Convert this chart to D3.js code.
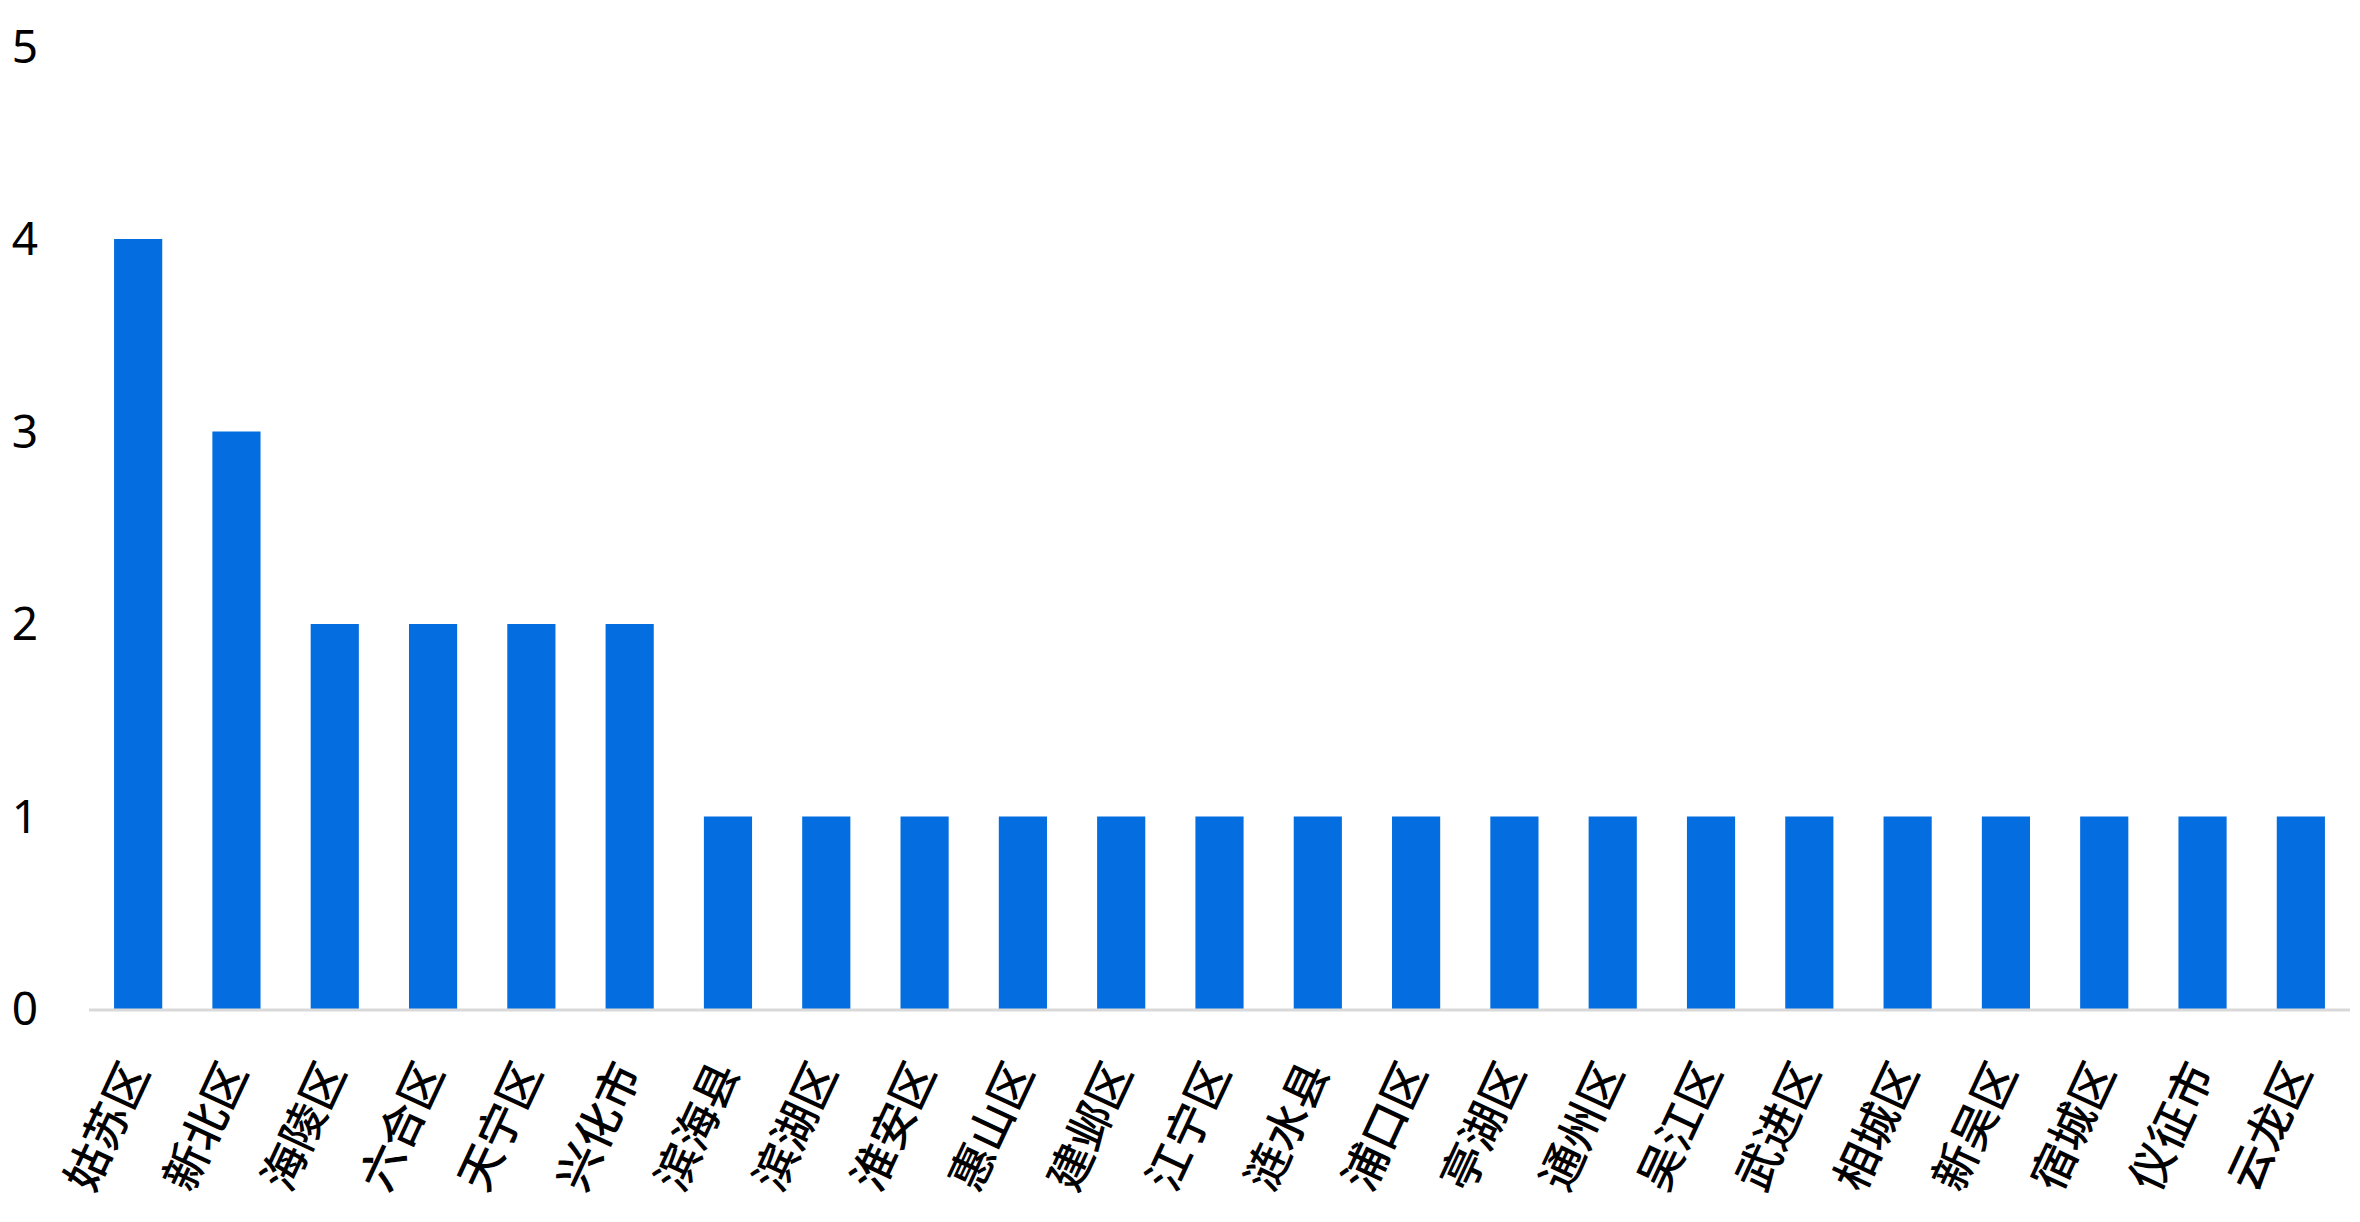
<!DOCTYPE html>
<html>
<head>
<meta charset="utf-8">
<script src="https://cdn.jsdelivr.net/npm/d3@7"></script>
<style>
  html, body { margin: 0; padding: 0; background: #fff; }
  svg { display: block; }
</style>
</head>
<body>
<script>
// Данные графика
const districts = ["姑苏区", "新北区", "海陵区", "六合区", "天宁区", "兴化市", "滨海县", "滨湖区",
    "淮安区", "惠山区", "建邺区", "江宁区", "涟水县", "浦口区", "亭湖区", "通州区",
    "吴江区", "武进区", "相城区", "新吴区", "宿城区", "仪征市", "云龙区"];
const counts = [4, 3, 2, 2, 2, 2, 1, 1, 1, 1, 1, 1, 1, 1, 1, 1, 1, 1, 1, 1, 1, 1, 1];
const yTicks = [0, 1, 2, 3, 4, 5];

const width = 2360, height = 1222;
const plotLeft = 89, plotRight = 2350, plotTop = 46.5, plotBottom = 1009;

const svg = d3.select("body")
    .append("svg")
    .attr("width", width)
    .attr("height", height);

const x = d3.scaleBand()
    .domain(districts)
    .range([plotLeft, plotRight])
    .paddingInner(0.51)
    .paddingOuter(0.255);

const y = d3.scaleLinear()
    .domain([0, 5])
    .range([plotBottom, plotTop]);

// Столбцы
svg.selectAll("rect.bar")
    .data(districts)
    .enter()
    .append("rect")
    .attr("class", "bar")
    .attr("x", function (d) { return x(d); })
    .attr("y", function (d, i) { return y(counts[i]); })
    .attr("width", x.bandwidth())
    .attr("height", function (d, i) { return y(0) - y(counts[i]); })
    .style("fill", "#046ddf");

// Ось X (только линия)
svg.append("line")
    .attr("x1", plotLeft)
    .attr("x2", plotRight)
    .attr("y1", plotBottom + 1)
    .attr("y2", plotBottom + 1)
    .style("stroke", "#d9d9d9")
    .style("stroke-width", 3);

// Подписи оси Y
svg.selectAll("text.ytick")
    .data(yTicks)
    .enter()
    .append("text")
    .attr("class", "ytick")
    .attr("x", 25)
    .attr("y", function (d) { return y(d); })
    .attr("dy", "0.35em")
    .attr("text-anchor", "middle")
    .attr("font-family", "'Noto Sans', sans-serif")
    .attr("font-size", "46px")
    .attr("fill", "#000")
    .text(function (d) { return d; });

// Подписи категорий
svg.selectAll("text.xlabel")
    .data(districts)
    .enter()
    .append("text")
    .attr("class", "xlabel")
    .attr("transform", function (d) {
        return "translate(" + (x(d) + x.bandwidth() / 2 + 12) + "," + 1072 + ") rotate(-65)";
    })
    .attr("text-anchor", "end")
    .attr("font-family", "'Noto Sans CJK SC', sans-serif")
    .attr("font-size", "45px")
    .attr("font-weight", 500)
    .attr("fill", "#000")
    .text(function (d) { return d; });
</script>
</body>
</html>
